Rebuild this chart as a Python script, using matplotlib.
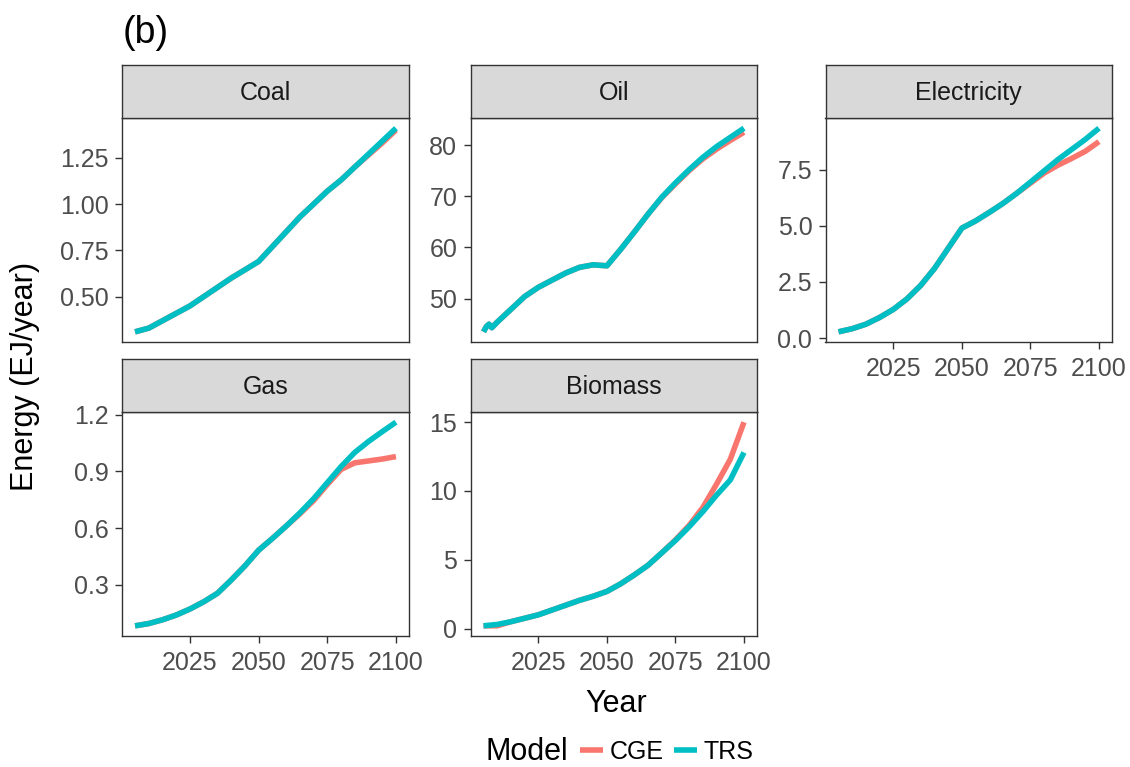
import matplotlib
matplotlib.use("Agg")
import matplotlib.pyplot as plt
from matplotlib.lines import Line2D

plt.rcParams['font.family'] = ['Liberation Sans', 'DejaVu Sans']

# ---------------- data ----------------
years = [2005, 2010, 2015, 2020, 2025, 2030, 2035, 2040, 2045, 2050,
         2055, 2060, 2065, 2070, 2075, 2080, 2085, 2090, 2095, 2100]

coal_trs = [0.31, 0.33, 0.37, 0.41, 0.45, 0.50, 0.55, 0.60, 0.645, 0.69,
            0.77, 0.85, 0.93, 1.00, 1.07, 1.13, 1.20, 1.27, 1.34, 1.41]
coal_cge = [0.31, 0.33, 0.37, 0.41, 0.45, 0.50, 0.55, 0.60, 0.645, 0.69,
            0.77, 0.85, 0.93, 1.00, 1.07, 1.13, 1.20, 1.265, 1.33, 1.40]

oil_years = [2005, 2006, 2007, 2008, 2010, 2015, 2020, 2025, 2030, 2035, 2040,
             2045, 2050, 2055, 2060, 2065, 2070, 2075, 2080, 2085, 2090,
             2095, 2100]
oil_trs = [43.5, 44.5, 45.0, 44.3, 45.4, 47.9, 50.4, 52.2, 53.6, 55.0, 56.1,
           56.6, 56.4, 59.6, 63.0, 66.5, 69.8, 72.6, 75.2, 77.6, 79.7,
           81.5, 83.3]
oil_cge = [43.5, 44.5, 45.0, 44.3, 45.4, 47.9, 50.4, 52.2, 53.6, 55.0, 56.1,
           56.6, 56.4, 59.6, 63.0, 66.5, 69.7, 72.4, 75.0, 77.3, 79.2,
           80.9, 82.5]

elec_trs = [0.28, 0.42, 0.62, 0.92, 1.28, 1.75, 2.35, 3.10, 4.00, 4.90,
            5.22, 5.60, 6.00, 6.45, 6.95, 7.45, 7.95, 8.40, 8.85, 9.35]
elec_cge = [0.28, 0.42, 0.62, 0.92, 1.28, 1.75, 2.35, 3.10, 4.00, 4.90,
            5.22, 5.60, 6.00, 6.45, 6.90, 7.35, 7.70, 8.00, 8.32, 8.75]

gas_trs = [0.083, 0.095, 0.115, 0.140, 0.172, 0.210, 0.255, 0.325, 0.400, 0.483,
           0.545, 0.610, 0.680, 0.755, 0.840, 0.925, 1.000, 1.058, 1.110, 1.160]
gas_cge = [0.083, 0.095, 0.115, 0.140, 0.172, 0.210, 0.255, 0.325, 0.400, 0.483,
           0.545, 0.610, 0.675, 0.745, 0.830, 0.910, 0.945, 0.955, 0.965, 0.978]

bio_trs = [0.20, 0.30, 0.50, 0.75, 1.00, 1.35, 1.70, 2.05, 2.35, 2.70,
           3.25, 3.90, 4.60, 5.50, 6.40, 7.40, 8.50, 9.70, 10.80, 12.80]
bio_cge = [0.20, 0.20, 0.50, 0.75, 1.00, 1.35, 1.70, 2.05, 2.35, 2.70,
           3.25, 3.90, 4.60, 5.50, 6.45, 7.50, 8.80, 10.50, 12.30, 15.00]

x_ticks = [2025, 2050, 2075, 2100]
coal_ticks = [0.50, 0.75, 1.00, 1.25]
oil_ticks = [50, 60, 70, 80]
elec_ticks = [0.0, 2.5, 5.0, 7.5]
gas_ticks = [0.3, 0.6, 0.9, 1.2]
bio_ticks = [0, 5, 10, 15]

facets = [
    ("Coal", years, coal_cge, years, coal_trs, coal_ticks, "{:.2f}"),
    ("Oil", oil_years, oil_cge, oil_years, oil_trs, oil_ticks, "{:d}"),
    ("Electricity", years, elec_cge, years, elec_trs, elec_ticks, "{:.1f}"),
    ("Gas", years, gas_cge, years, gas_trs, gas_ticks, "{:.1f}"),
    ("Biomass", years, bio_cge, years, bio_trs, bio_ticks, "{:d}"),
]

CGE_COL = "#F8766D"
TRS_COL = "#00BFC4"
GREY20 = "#333333"
TICK_TXT = "#4D4D4D"

# ---------------- layout ----------------
W, H = 1130, 767
fig = plt.figure(figsize=(W / 100, H / 100), dpi=100)

col_x = [(122, 409), (470.5, 757), (825.5, 1112)]
rows = [(65, 118, 342), (359, 412, 636)]  # strip top, panel top, panel bottom

def fig_rect(x0, x1, y0, y1):
    return [x0 / W, 1 - y1 / H, (x1 - x0) / W, (y1 - y0) / H]

def expand(vals, frac=0.05):
    lo, hi = min(vals), max(vals)
    d = (hi - lo) * frac
    return lo - d, hi + d

all_years = years + oil_years
xlim = expand(all_years)

for i, (name, xc, yc, xt, yt, ticks, fmt) in enumerate(facets):
    r, c = divmod(i, 3)
    x0, x1 = col_x[c]
    st, pt, pb = rows[r]
    ax = fig.add_axes(fig_rect(x0, x1, pt, pb))
    sax = fig.add_axes(fig_rect(x0, x1, st, pt))

    ax.plot(xc, yc, color=CGE_COL, lw=4, solid_capstyle='butt', zorder=2)
    ax.plot(xt, yt, color=TRS_COL, lw=4, solid_capstyle='butt', zorder=3)

    ax.set_xlim(*xlim)
    ax.set_ylim(*expand(yc + yt))
    ax.set_yticks(ticks)
    ax.set_yticklabels([fmt.format(t) for t in ticks])
    show_x = (r == 1) or (c == 2)
    ax.set_xticks(x_ticks)
    if show_x:
        ax.set_xticklabels([str(t) for t in x_ticks])
    else:
        ax.set_xticklabels([])
    ax.tick_params(axis='both', labelsize=18, labelcolor=TICK_TXT, color=GREY20,
                   width=1.0, length=5)
    ax.tick_params(axis='y', pad=4.5)
    ax.tick_params(axis='x', pad=6)
    if not show_x:
        ax.tick_params(axis='x', length=0)
    for s in ax.spines.values():
        s.set_color(GREY20)
        s.set_linewidth(1.0)
    ax.set_facecolor("white")

    sax.set_facecolor("#D9D9D9")
    sax.set_xticks([])
    sax.set_yticks([])
    for s in sax.spines.values():
        s.set_color(GREY20)
        s.set_linewidth(1.0)
    sax.text(0.5, 0.47, name, ha='center', va='center', fontsize=18,
             color="#1A1A1A", transform=sax.transAxes)

# titles
fig.text(123 / W, 1 - 33 / H, "(b)", fontsize=27, ha='left', va='center', color='black')
fig.text(25 / W, 1 - 376 / H, "Energy (EJ/year)", fontsize=22, rotation=90,
         ha='center', va='center', color='black')
fig.text(616 / W, 1 - 704 / H, "Year", fontsize=22, ha='center', va='center', color='black')

# legend
fig.text(485 / W, 1 - 752 / H, "Model", fontsize=22, ha='left', va='center', color='black')
handles = [Line2D([0], [0], color=CGE_COL, lw=4, solid_capstyle='butt'),
           Line2D([0], [0], color=TRS_COL, lw=4, solid_capstyle='butt')]
fig.legend(handles, ["CGE", "TRS"], ncol=2, loc='center left',
           bbox_to_anchor=(580 / W, 1 - 752 / H), frameon=False, fontsize=18,
           handlelength=0.9, handletextpad=0.3, columnspacing=0.4,
           borderpad=0, borderaxespad=0)

fig.savefig("out.png", dpi=100)
